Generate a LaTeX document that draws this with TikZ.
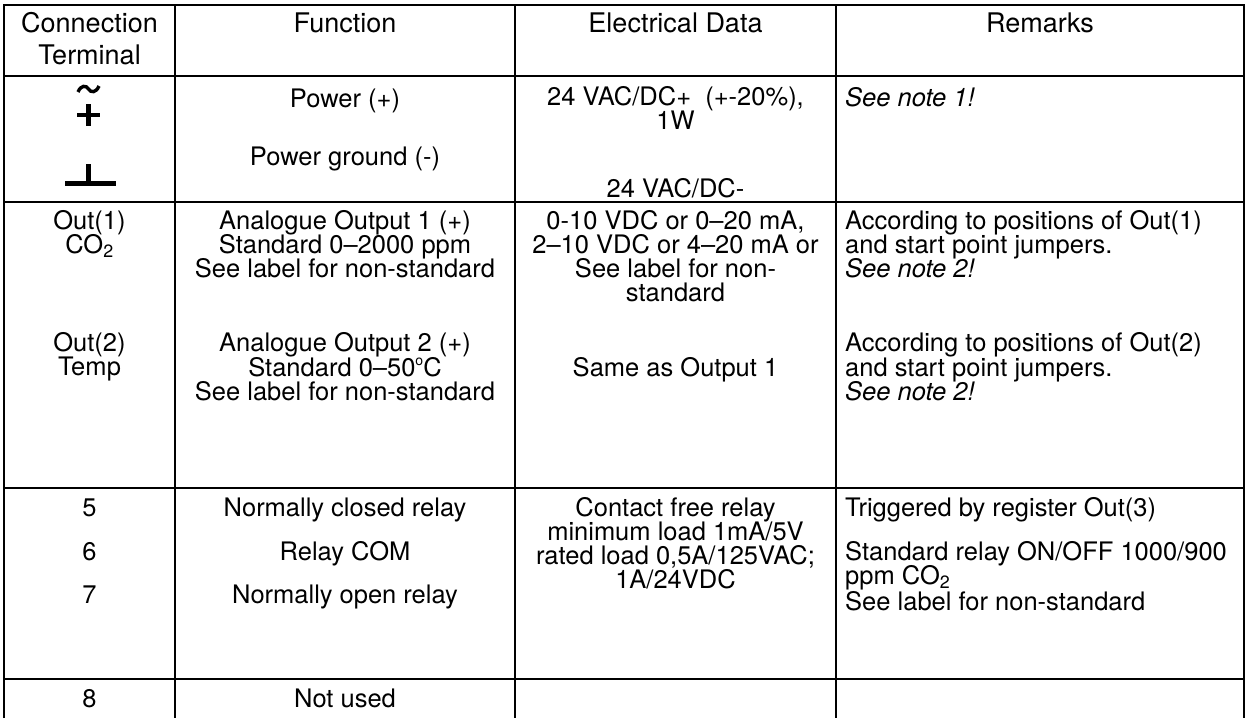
\documentclass[tikz,border=0pt]{standalone}
\usepackage{fontspec}
\setmainfont{TeX Gyre Heros}
\begin{document}
\begin{tikzpicture}[x=1pt,y=-1pt,
	rule/.style={line width=2.5pt},
	sym/.style={line width=4.2pt},
	txt/.style={anchor=base, inner sep=0pt, font=\fontsize{25.5}{24}\selectfont},
	head/.style={txt, font=\fontsize{27}{30}\selectfont},
	rmk/.style={txt, anchor=base west},
	note/.style={rmk, font=\fontsize{25.5}{24}\selectfont\itshape}]
	\useasboundingbox (0,0) rectangle (1248,718);
	% table rules, open at the bottom
	\draw[rule] (4,718) -- (4,5) -- (1244,5) -- (1244,718);
	\draw[rule] (175,5) -- (175,718);
	\draw[rule] (515,5) -- (515,718);
	\draw[rule] (836,5) -- (836,718);
	\draw[rule] (4,76) -- (1244,76);
	\draw[rule] (4,202) -- (1244,202);
	\draw[rule] (4,488) -- (1244,488);
	\draw[rule] (4,679) -- (1244,679);
	
	\node[head] (hcon) at (89.5,32) {Connection};
	\node[head] (hterm) at (89.5,64) {Terminal};
	\node[head] (hfun) at (345,32) {Function};
	\node[head] (helec) at (675.5,32) {Electrical Data};
	\node[head] (hrem) at (1040,32) {Remarks};
	
	% supply terminals: ac/dc plus and ground
	\draw[line width=3.4pt] (78,92) .. controls (81,85) and (86,85) .. (88.5,89)
		.. controls (91,93) and (96,93) .. (99,86);
	\draw[sym] (77,115) -- (100,115);
	\draw[sym] (88.5,104) -- (88.5,126);
	\draw[sym] (88.5,164) -- (88.5,182);
	\draw[line width=5pt] (65,183) -- (116,183);
	\node[txt] (pwr) at (345,107) {Power (+)};
	\node[txt] (pgnd) at (345,165) {Power ground (-)};
	\node[txt] (vplus) at (675.5,105) {24 VAC/DC+\ \ (+-20\%),};
	\node[txt] (watt) at (675.5,129) {1W};
	\node[txt] (vminus) at (675.5,197) {24 VAC/DC-};
	\node[note] (note1) at (845,106) {See note 1!};
	
	% analogue outputs
	\node[txt] (out1) at (89.5,229) {Out(1)};
	\node[txt] (co2) at (89.5,253) {CO\textsubscript{2}};
	\node[txt] (out2) at (89.5,351) {Out(2)};
	\node[txt] (temp) at (89.5,375) {Temp};
	\node[txt] (ao1) at (345,229) {Analogue Output 1 (+)};
	\node[txt] (std1) at (345,253) {Standard 0--2000 ppm};
	\node[txt] (lbl1) at (345,277) {See label for non-standard};
	\node[txt] (ao2) at (345,351) {Analogue Output 2 (+)};
	\node[txt] (std2) at (345,376) {Standard 0--50\raisebox{0.42em}{\fontsize{14}{14}\selectfont o}C};
	\node[txt] (lbl2) at (345,400) {See label for non-standard};
	\node[txt] (rng1) at (675.5,229) {0-10 VDC or 0--20 mA,};
	\node[txt] (rng2) at (675.5,253) {2--10 VDC or 4--20 mA or};
	\node[txt] (rng3) at (675.5,277) {See label for non-};
	\node[txt] (rng4) at (675.5,301) {standard};
	\node[txt] (same) at (675.5,376) {Same as Output 1};
	\node[rmk] (acc1) at (845,229) {According to positions of Out(1)};
	\node[rmk] (jmp1) at (845,253) {and start point jumpers.};
	\node[note] (note2a) at (845,277) {See note 2!};
	\node[rmk] (acc2) at (845,351) {According to positions of Out(2)};
	\node[rmk] (jmp2) at (845,376) {and start point jumpers.};
	\node[note] (note2b) at (845,400) {See note 2!};
	
	% relay contacts
	\node[txt] (t5) at (89.5,516) {5};
	\node[txt] (t6) at (89.5,560) {6};
	\node[txt] (t7) at (89.5,603) {7};
	\node[txt] (nc) at (345,516) {Normally closed relay};
	\node[txt] (com) at (345,560) {Relay COM};
	\node[txt] (no) at (345,603) {Normally open relay};
	\node[txt] (cfree) at (675.5,516) {Contact free relay};
	\node[txt] (minl) at (675.5,540) {minimum load 1mA/5V};
	\node[txt] (ratac) at (675.5,564) {rated load 0,5A/125VAC;};
	\node[txt] (ratdc) at (675.5,588) {1A/24VDC};
	\node[rmk] (trig) at (845,516) {Triggered by register Out(3)};
	\node[rmk] (stdr) at (845,560) {Standard relay ON/OFF 1000/900};
	\node[rmk] (ppm) at (845,584) {ppm CO\textsubscript{2}};
	\node[rmk] (lbl3) at (845,610) {See label for non-standard};
	
	\node[txt] (t8) at (89.5,707) {8};
	\node[txt] (nused) at (345,707) {Not used};
\end{tikzpicture}
\end{document}
